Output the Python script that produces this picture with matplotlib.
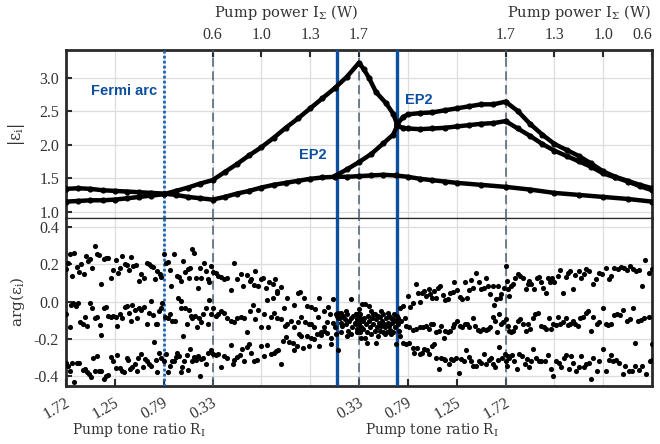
import matplotlib
matplotlib.use('Agg')
import matplotlib.pyplot as plt
import matplotlib.transforms as mtransforms
import numpy as np

plt.rcParams['font.family'] = 'Liberation Serif'
plt.rcParams['mathtext.fontset'] = 'custom'
plt.rcParams['mathtext.rm'] = 'DejaVu Serif'
plt.rcParams['mathtext.it'] = 'DejaVu Serif:italic'
plt.rcParams['mathtext.bf'] = 'DejaVu Serif:bold'

# x axis: one unit per tick step
ratio_ticks = [0, 1, 2, 3, 6, 7, 8, 9]
ratio_labels = ['1.72', '1.25', '0.79', '0.33', '0.33', '0.79', '1.25', '1.72']
power_ticks = [3, 4, 5, 6, 9, 10, 11, 12]
power_labels = ['0.6', '1.0', '1.3', '1.7', '1.7', '1.3', '1.0', '0.6']

fermi_arc_x = 2
dashed_x = [3, 6, 9]
ep2_x = [5.556, 6.78]

# |eps_i| branches
branch_a_x = [0, 0.25, 0.5, 0.75, 1, 1.25, 1.5, 1.75, 2, 2.25, 2.5, 2.75, 3, 3.25, 3.5, 3.75, 4,
              4.25, 4.5, 4.75, 5, 5.25, 5.5, 5.75, 6, 6.25, 6.5, 6.75, 7, 7.25, 7.5, 7.75, 8,
              8.5, 9, 9.5, 10, 10.5, 11, 11.5, 12]
branch_a_y = [1.34, 1.35, 1.34, 1.32, 1.31, 1.30, 1.29, 1.28, 1.27, 1.25, 1.22, 1.20, 1.18, 1.22,
              1.27, 1.31, 1.36, 1.40, 1.43, 1.46, 1.49, 1.51, 1.52, 1.52, 1.53, 1.54, 1.55, 1.54,
              1.52, 1.49, 1.47, 1.45, 1.43, 1.40, 1.37, 1.33, 1.28, 1.25, 1.22, 1.19, 1.15]

branch_b_x = [0, 0.25, 0.5, 0.75, 1, 1.25, 1.5, 1.75, 2, 2.25, 2.5, 2.75, 3, 3.25, 3.5, 3.75, 4,
              4.25, 4.5, 4.75, 5, 5.25, 5.5, 5.75, 6, 6.1, 6.2, 6.35, 6.55, 6.7, 6.78]
branch_b_y = [1.15, 1.16, 1.17, 1.17, 1.18, 1.20, 1.22, 1.24, 1.26, 1.31, 1.36, 1.42, 1.47, 1.59,
              1.71, 1.84, 1.96, 2.10, 2.25, 2.39, 2.54, 2.69, 2.84, 3.01, 3.22, 3.12, 3.00, 2.78,
              2.62, 2.46, 2.30]

branch_c_x = [5.5, 5.75, 6.0, 6.25, 6.5, 6.7, 6.78]
branch_c_y = [1.53, 1.63, 1.74, 1.86, 2.02, 2.15, 2.28]

branch_de_x = [6.78, 6.9, 7.0, 7.25, 7.5, 7.75, 8.0, 8.25, 8.5, 8.75, 9.0, 9.25, 9.5, 9.75, 10.0,
               10.25, 10.5, 10.75, 11.0, 11.25, 11.5, 11.75, 12.0]
branch_d_y = [2.30, 2.41, 2.45, 2.47, 2.48, 2.51, 2.54, 2.57, 2.60, 2.60, 2.64, 2.50, 2.31, 2.15,
              2.01, 1.92, 1.83, 1.72, 1.60, 1.52, 1.46, 1.40, 1.35]
branch_e_y = [2.28, 2.25, 2.24, 2.23, 2.24, 2.25, 2.27, 2.29, 2.31, 2.32, 2.35, 2.24, 2.13, 2.01,
              1.91, 1.83, 1.75, 1.67, 1.57, 1.51, 1.45, 1.38, 1.32]

# arg(eps_i) scatter, (x, value)
arg_upper = [
    (0.01, 0.174), (0.04, 0.21), (0.08, 0.255), (0.13, 0.138), (0.16, 0.26), (0.23, 0.187),
    (0.27, 0.162), (0.31, 0.201), (0.36, 0.147), (0.40, 0.246), (0.45, 0.219), (0.49, 0.228),
    (0.54, 0.18), (0.59, 0.30), (0.63, 0.258), (0.68, 0.252), (0.72, 0.094), (0.77, 0.228),
    (0.81, 0.233), (0.86, 0.237), (0.92, 0.129), (0.97, 0.171), (1.02, 0.222), (1.07, 0.156),
    (1.11, 0.183), (1.15, 0.246), (1.20, 0.201), (1.24, 0.198), (1.29, 0.171), (1.33, 0.24),
    (1.38, 0.192), (1.43, 0.196), (1.50, 0.111), (1.54, 0.147), (1.60, 0.126), (1.65, 0.21),
    (1.70, 0.201), (1.75, 0.192), (1.79, 0.189), (1.82, 0.12), (1.87, 0.165), (1.93, 0.151),
    (1.95, 0.133), (2.01, 0.255), (2.04, 0.21), (2.09, 0.215), (2.13, 0.169), (2.16, 0.085),
    (2.21, 0.255), (2.27, 0.138), (2.32, 0.133), (2.35, 0.111), (2.40, 0.219), (2.43, 0.162),
    (2.49, 0.174), (2.52, 0.126), (2.54, 0.183), (2.59, 0.282), (2.62, 0.264), (2.66, 0.129),
    (2.70, 0.076), (2.75, 0.18), (2.77, 0.129), (2.83, 0.21), (2.86, 0.165), (2.90, 0.12),
    (2.93, 0.108), (2.96, 0.192), (3.01, 0.162), (3.07, 0.156), (3.11, 0.138), (3.17, 0.133),
    (3.24, 0.12), (3.30, 0.129), (3.37, 0.061), (3.44, 0.21), (3.51, 0.12), (3.58, 0.151),
    (3.63, 0.085), (3.70, 0.144), (3.76, 0.111), (3.78, 0.12), (3.84, 0.09), (3.88, 0.165),
    (3.93, 0.085), (3.99, 0.12), (4.04, 0.129), (4.09, 0.072), (4.16, 0.103), (4.23, 0.094),
    (4.27, 0.12), (4.33, 0.058), (4.41, 0.081),
    (4.12, 0.008), (4.23, 0.022), (4.33, 0.049), (4.47, -0.032), (4.53, 0.022), (4.67, -0.018),
    (4.74, 0.049), (4.79, 0.054), (4.87, 0.022), (4.93, -0.023), (5.02, -0.028), (5.09, -0.041),
    (5.18, 0.017), (5.28, -0.05), (5.37, -0.028), (5.46, 0.013), (5.52, -0.068), (5.57, -0.086),
    (5.63, -0.059), (5.73, -0.05), (5.83, 0.013), (5.93, -0.068),
    (6.83, -0.032), (6.90, -0.023), (6.95, -0.086), (7.00, 0.031), (7.05, -0.028), (7.10, -0.01),
    (7.17, 0.094), (7.20, 0.044), (7.25, 0.0), (7.29, 0.044), (7.34, 0.058), (7.37, 0.031),
    (7.43, 0.067), (7.46, 0.04), (7.50, 0.018), (7.54, 0.058), (7.58, 0.022), (7.61, 0.076),
    (7.66, 0.085), (7.71, 0.036), (7.77, 0.008), (7.82, 0.013), (7.86, 0.044), (7.92, 0.054),
    (7.95, 0.103), (8.00, 0.061), (8.06, 0.026), (8.11, 0.013), (8.16, 0.103), (8.21, 0.022),
    (8.25, 0.061), (8.29, 0.115), (8.34, 0.072), (8.40, 0.156), (8.45, 0.103), (8.50, 0.067),
    (8.55, 0.072), (8.59, 0.126), (8.64, 0.085), (8.68, 0.04), (8.74, 0.085), (8.77, -0.018),
    (8.81, 0.013), (8.84, 0.085), (8.88, 0.022), (8.91, 0.04), (8.96, 0.076), (9.00, 0.192),
    (9.03, 0.111), (9.05, 0.067), (9.08, 0.031), (9.11, 0.085), (9.15, 0.097), (9.20, 0.126),
    (9.25, 0.147), (9.30, 0.138), (9.35, 0.126), (9.41, 0.067), (9.46, 0.097), (9.49, 0.111),
    (9.52, 0.094), (9.59, 0.067), (9.64, 0.129), (9.68, 0.133), (9.73, 0.103), (9.76, 0.076),
    (9.82, 0.049), (9.86, 0.129), (9.90, 0.103), (9.95, 0.129), (10.00, 0.108), (10.07, 0.138),
    (10.12, 0.169), (10.17, 0.049), (10.23, 0.133), (10.27, 0.156), (10.32, 0.165), (10.38, 0.067),
    (10.43, 0.144), (10.50, 0.165), (10.55, 0.129), (10.60, 0.147), (10.65, 0.174), (10.70, 0.165),
    (10.80, 0.094), (10.85, 0.12), (10.91, 0.156), (10.98, 0.147), (11.05, 0.183), (11.11, 0.12),
    (11.16, 0.138), (11.23, 0.183), (11.30, 0.174), (11.37, 0.187), (11.43, 0.18), (11.48, 0.169),
    (11.54, 0.192), (11.61, 0.174), (11.67, 0.165), (11.73, 0.169), (11.80, 0.085), (11.86, 0.222),
    (11.93, 0.156), (11.99, 0.174),
]

arg_middle = [
    (0.0, -0.068), (0.08, -0.136), (0.11, -0.018), (0.15, -0.01), (0.20, -0.023), (0.25, -0.01),
    (0.29, -0.112), (0.34, -0.121), (0.38, -0.082), (0.44, -0.13), (0.49, -0.01), (0.54, -0.035),
    (0.59, -0.086), (0.64, -0.082), (0.70, -0.125), (0.72, -0.179), (0.77, -0.035), (0.81, -0.028),
    (0.86, -0.078), (0.92, -0.082), (0.97, -0.078), (1.02, -0.082), (1.05, -0.13), (1.11, -0.068),
    (1.15, -0.086), (1.20, -0.028), (1.24, -0.023), (1.29, -0.059), (1.33, -0.104), (1.36, -0.018),
    (1.41, -0.046), (1.46, -0.086), (1.50, -0.032), (1.54, -0.046), (1.60, -0.028), (1.65, -0.121),
    (1.70, -0.059), (1.75, 0.004), (1.79, -0.071), (1.84, -0.121), (1.87, -0.118), (1.91, -0.05),
    (1.95, -0.032), (1.97, -0.005), (2.02, -0.082), (2.08, -0.086), (2.13, -0.068), (2.18, -0.104),
    (2.23, -0.104), (2.29, 0.018), (2.35, 0.004), (2.36, -0.035), (2.40, -0.184), (2.43, -0.032),
    (2.47, -0.118), (2.52, -0.046), (2.56, -0.077), (2.59, -0.086), (2.64, -0.077), (2.69, -0.139),
    (2.72, -0.089), (2.77, -0.107), (2.81, -0.068), (2.86, -0.035), (2.90, -0.118), (2.93, 0.011),
    (2.96, -0.064), (3.01, -0.035), (3.07, -0.077), (3.11, -0.068), (3.17, -0.05), (3.24, -0.059),
    (3.30, -0.086), (3.37, -0.104), (3.44, -0.112), (3.51, -0.086), (3.58, -0.082), (3.65, -0.086),
    (3.70, -0.161), (3.77, -0.05), (3.82, -0.018), (3.88, -0.095), (3.93, -0.046), (4.00, -0.139),
    (4.06, -0.064), (4.14, -0.139), (4.19, -0.082), (4.26, -0.059), (4.33, -0.086), (4.41, -0.095),
    (4.48, -0.13), (4.53, -0.121), (4.60, -0.104), (4.67, -0.139), (4.74, -0.107), (4.82, -0.082),
    (4.89, -0.107), (4.98, -0.121), (5.02, -0.118), (5.08, -0.139), (5.15, -0.082), (5.22, -0.166),
    (5.28, -0.136), (5.35, -0.107), (5.41, -0.068), (5.46, -0.113), (5.50, -0.139), (5.54, -0.077),
    (6.86, -0.104), (6.96, -0.13), (7.03, -0.139), (7.10, -0.153), (7.17, -0.148), (7.24, -0.139),
    (7.31, -0.139), (7.37, -0.13), (7.43, -0.148), (7.48, -0.121), (7.52, -0.118), (7.58, -0.166),
    (7.63, -0.157), (7.68, -0.13), (7.73, -0.193), (7.77, -0.157), (7.82, -0.166), (7.86, -0.157),
    (7.92, -0.139), (7.95, -0.121), (8.00, -0.104), (8.06, -0.13), (8.11, -0.139), (8.16, -0.121),
    (8.21, -0.118), (8.26, -0.139), (8.33, -0.086), (8.38, -0.13), (8.43, -0.153), (8.48, -0.157),
    (8.53, -0.148), (8.59, -0.153), (8.64, -0.148), (8.68, -0.139), (8.74, -0.082), (8.79, -0.104),
    (8.82, -0.166), (8.86, -0.068), (8.91, -0.118), (8.94, -0.107), (9.00, -0.095), (9.05, -0.13),
    (9.08, -0.157), (9.11, -0.166), (9.15, -0.157), (9.20, -0.139), (9.25, -0.104), (9.30, -0.095),
    (9.35, -0.118), (9.41, -0.157), (9.46, -0.121), (9.50, -0.148), (9.56, -0.086), (9.61, -0.068),
    (9.66, -0.059), (9.73, -0.13), (9.78, -0.139), (9.83, -0.148), (9.89, -0.086), (9.93, -0.148),
    (9.98, -0.121), (10.04, -0.125), (10.07, -0.082), (10.12, -0.118), (10.17, -0.107),
    (10.23, -0.086), (10.27, -0.125), (10.32, -0.121), (10.38, -0.104), (10.43, -0.118),
    (10.48, -0.13), (10.53, -0.086), (10.58, -0.082), (10.64, -0.059), (10.68, -0.053),
    (10.75, -0.157), (10.80, -0.082), (10.87, -0.118), (10.92, -0.112), (10.99, -0.035),
    (11.05, -0.121), (11.09, -0.125), (11.16, -0.118), (11.23, -0.071), (11.28, -0.068),
    (11.35, -0.071), (11.40, -0.046), (11.48, -0.104), (11.54, -0.095), (11.61, -0.032),
    (11.66, -0.22), (11.71, -0.104), (11.78, -0.1), (11.84, -0.089), (11.93, -0.082),
    (11.99, -0.229),
]

arg_lower = [
    (0.0, -0.328), (0.04, -0.345), (0.08, -0.372), (0.13, -0.328), (0.16, -0.43), (0.22, -0.331),
    (0.27, -0.331), (0.34, -0.369), (0.38, -0.363), (0.42, -0.381), (0.47, -0.39), (0.51, -0.408),
    (0.56, -0.301), (0.59, -0.372), (0.63, -0.292), (0.68, -0.372), (0.72, -0.372), (0.77, -0.417),
    (0.81, -0.399), (0.86, -0.394), (0.92, -0.297), (0.97, -0.322), (1.02, -0.358), (1.05, -0.288),
    (1.11, -0.358), (1.15, -0.372), (1.19, -0.381), (1.24, -0.304), (1.27, -0.315), (1.31, -0.363),
    (1.36, -0.354), (1.41, -0.337), (1.45, -0.372), (1.48, -0.301), (1.53, -0.283), (1.58, -0.354),
    (1.61, -0.31), (1.65, -0.322), (1.70, -0.337), (1.75, -0.345), (1.80, -0.215), (1.84, -0.315),
    (1.87, -0.376), (1.91, -0.274), (1.95, -0.301), (2.01, -0.319), (2.04, -0.283), (2.09, -0.381),
    (2.13, -0.345), (2.18, -0.322), (2.21, -0.322), (2.25, -0.297), (2.28, -0.274), (2.32, -0.292),
    (2.35, -0.376), (2.38, -0.35), (2.42, -0.322), (2.47, -0.286), (2.50, -0.369), (2.54, -0.256),
    (2.59, -0.322), (2.62, -0.297), (2.66, -0.315), (2.70, -0.292), (2.75, -0.399), (2.77, -0.31),
    (2.81, -0.301), (2.86, -0.337), (2.91, -0.274), (2.96, -0.261), (3.01, -0.283), (3.07, -0.286),
    (3.11, -0.283), (3.18, -0.35), (3.24, -0.292), (3.29, -0.304), (3.37, -0.233), (3.41, -0.333),
    (3.45, -0.315), (3.51, -0.297), (3.56, -0.286), (3.61, -0.256), (3.65, -0.322), (3.70, -0.243),
    (3.75, -0.229), (3.78, -0.279), (3.85, -0.322), (3.91, -0.315), (4.00, -0.238), (4.06, -0.292),
    (4.12, -0.233), (4.19, -0.283), (4.25, -0.274), (4.29, -0.265), (4.34, -0.261), (4.40, -0.337),
    (4.45, -0.211), (4.50, -0.19), (4.57, -0.215), (4.64, -0.22), (4.67, -0.261), (4.72, -0.238),
    (4.77, -0.175), (4.82, -0.184), (4.86, -0.251), (4.93, -0.184), (4.98, -0.238), (5.02, -0.193),
    (5.08, -0.202), (5.13, -0.175), (5.18, -0.238), (5.23, -0.179), (5.28, -0.157), (5.35, -0.171),
    (5.42, -0.193), (5.43, -0.229), (5.52, -0.175), (5.57, -0.261),
    (6.90, -0.22), (6.96, -0.229), (7.03, -0.22), (7.10, -0.247), (7.13, -0.279), (7.18, -0.247),
    (7.24, -0.283), (7.29, -0.274), (7.34, -0.256), (7.39, -0.261), (7.44, -0.283), (7.50, -0.238),
    (7.54, -0.229), (7.58, -0.301), (7.63, -0.363), (7.68, -0.301), (7.73, -0.31), (7.77, -0.315),
    (7.84, -0.337), (7.89, -0.31), (7.93, -0.315), (7.99, -0.304), (8.04, -0.386), (8.09, -0.31),
    (8.14, -0.319), (8.19, -0.261), (8.25, -0.297), (8.30, -0.322), (8.34, -0.345), (8.40, -0.345),
    (8.45, -0.322), (8.50, -0.328), (8.55, -0.283), (8.60, -0.337), (8.66, -0.315), (8.70, -0.301),
    (8.75, -0.337), (8.79, -0.354), (8.84, -0.315), (8.87, -0.243), (8.93, -0.301), (8.98, -0.283),
    (9.00, -0.319), (9.03, -0.345), (9.05, -0.292), (9.08, -0.301), (9.13, -0.286), (9.18, -0.319),
    (9.23, -0.363), (9.28, -0.283), (9.34, -0.292), (9.39, -0.337), (9.44, -0.31), (9.48, -0.35),
    (9.52, -0.319), (9.57, -0.256), (9.63, -0.301), (9.68, -0.319), (9.73, -0.322), (9.80, -0.319),
    (9.86, -0.286), (9.93, -0.363), (9.98, -0.399), (10.04, -0.319), (10.09, -0.328),
    (10.14, -0.354), (10.19, -0.301), (10.23, -0.286), (10.30, -0.363), (10.34, -0.292),
    (10.39, -0.328), (10.45, -0.372), (10.50, -0.354), (10.55, -0.292), (10.60, -0.354),
    (10.65, -0.337), (10.70, -0.328), (10.75, -0.417), (10.80, -0.301), (10.87, -0.372),
    (10.92, -0.319), (10.99, -0.256), (11.05, -0.372), (11.11, -0.315), (11.16, -0.286),
    (11.21, -0.319), (11.26, -0.315), (11.33, -0.328), (11.40, -0.39), (11.45, -0.345),
    (11.52, -0.372), (11.59, -0.372), (11.66, -0.345), (11.73, -0.368), (11.80, -0.345),
    (11.88, -0.39), (11.95, -0.319), (11.99, -0.315),
]

# dense region between the two EP2 lines
arg_cluster = [
    (5.56, -0.059), (5.60, -0.086), (5.63, -0.113), (5.65, -0.13), (5.68, -0.077), (5.71, -0.095),
    (5.74, -0.121), (5.76, -0.068), (5.78, -0.157), (5.80, -0.104), (5.83, -0.086), (5.86, -0.139),
    (5.88, -0.077), (5.91, -0.113), (5.94, -0.121), (5.97, -0.086), (6.00, -0.157), (6.01, -0.068),
    (6.02, -0.104), (5.64, -0.166), (5.75, -0.184), (5.84, -0.175), (5.93, -0.068), (5.95, -0.148),
    (5.95, -0.095), (5.97, -0.068), (5.99, -0.121), (6.01, -0.166), (6.02, -0.086), (6.04, -0.139),
    (6.06, -0.014), (6.08, -0.104), (6.09, -0.148), (6.11, -0.086), (6.13, -0.014), (6.14, -0.121),
    (6.16, -0.166), (6.18, -0.077), (6.20, -0.023), (6.21, -0.104), (6.23, -0.139), (6.25, -0.175),
    (6.27, -0.086), (6.28, -0.121), (6.29, -0.068), (6.32, -0.157), (6.34, -0.225), (6.35, -0.095),
    (6.36, -0.139), (6.38, -0.077), (6.40, -0.113), (6.42, -0.157), (6.43, -0.082), (6.45, -0.13),
    (6.47, -0.104), (6.49, -0.166), (6.50, -0.068), (6.52, -0.118), (6.54, -0.139), (6.55, -0.086),
    (6.57, -0.166), (6.59, -0.113), (6.61, -0.077), (6.62, -0.13), (6.64, -0.153), (6.66, -0.086),
    (6.68, -0.113), (6.69, -0.166), (6.70, -0.095), (6.73, -0.139), (6.75, -0.104), (6.76, -0.229),
    (6.77, -0.077), (6.79, -0.121), (6.81, -0.157), (6.83, -0.184), (5.96, -0.166), (5.99, -0.041),
    (6.04, -0.193), (6.12, -0.193), (6.17, -0.22), (6.24, -0.053), (6.33, -0.068), (6.39, -0.184),
    (6.45, -0.05), (6.53, -0.175), (6.60, -0.059), (6.65, -0.175), (6.72, -0.068), (6.80, -0.086),
]

blue = '#0d4f9e'
blue_dot = '#1a66b8'
dash_col = '#4a5f73'
grid_col = '#dddddd'
spine_col = '#2a2a2a'
text_col = '#333333'
label_font = 'DejaVu Serif'

fig = plt.figure(figsize=(6.6, 4.44), dpi=100)
ax1 = fig.add_axes([0.1, 0.509, 0.888, 0.3784])
ax2 = fig.add_axes([0.1, 0.1306, 0.888, 0.3784])

for ax in (ax1, ax2):
    ax.set_xlim(0, 12)
    ax.set_xticks(range(13), minor=True)
    ax.grid(True, which='both', axis='x', color=grid_col, lw=0.9, zorder=0)
    ax.grid(True, which='major', axis='y', color=grid_col, lw=0.9, zorder=0)
    ax.set_axisbelow(True)
    for s in ax.spines.values():
        s.set_linewidth(2)
        s.set_color(spine_col)
    ax.tick_params(which='minor', length=0)
    ax.tick_params(axis='y', direction='in', length=4, width=1.5, labelsize=11.5,
                   labelcolor=text_col, color=spine_col, pad=5)
    ax.axvline(fermi_arc_x, color=blue_dot, lw=2, ls=(0, (1, 0.8)), zorder=3)
    for xd in dashed_x:
        ax.axvline(xd, color=dash_col, lw=1.1, ls=(0, (6, 3)), zorder=3)
    for xe in ep2_x:
        ax.axvline(xe, color=blue, lw=2.4, zorder=4)

ax1.spines['bottom'].set_linewidth(0.9)
ax2.spines['top'].set_linewidth(0.9)

# top panel: |eps_i|
for bx, by in [(branch_a_x, branch_a_y), (branch_b_x, branch_b_y), (branch_c_x, branch_c_y),
               (branch_de_x, branch_d_y), (branch_de_x, branch_e_y)]:
    ax1.plot(bx, by, '-', color='k', lw=3.2, marker='o', ms=3.4, zorder=5)
ax1.set_ylim(0.906, 3.41)
ax1.set_yticks([1.0, 1.5, 2.0, 2.5, 3.0])
ax1.set_yticklabels(['1.0', '1.5', '2.0', '2.5', '3.0'])
ax1.set_xticks(power_ticks)
ax1.set_xticklabels(power_labels)
ax1.tick_params(axis='x', which='major', direction='in', top=True, bottom=False,
                labeltop=True, labelbottom=False, length=5, width=1.5, labelsize=11.5,
                labelcolor=text_col, color=spine_col, pad=5)
# keep the last top label inside the figure
ax1.get_xticklabels()[-1].set_horizontalalignment('right')
ax1.set_ylabel(r'$|\mathrm{ε}_\mathrm{i}|$', fontsize=11.5, color=text_col)
ax1.yaxis.set_label_coords(-0.066, 0.5)

tr1 = mtransforms.blended_transform_factory(ax1.transData, ax1.transAxes)
for xc in [4.5, 10.5]:
    ax1.text(xc, 1.226, r'Pump power I$_\mathrm{\Sigma}$ (W)', transform=tr1, ha='center',
             va='center', fontsize=10.5, family=label_font, color=text_col)

ax1.text(1.86, 2.80, 'Fermi arc', ha='right', va='center', fontsize=10.5, fontweight='bold',
         family='Liberation Sans', color=blue, zorder=6)
ax1.text(5.05, 1.84, 'EP2', ha='center', va='center', fontsize=10.5, fontweight='bold',
         family='Liberation Sans', color=blue, zorder=6)
ax1.text(7.22, 2.67, 'EP2', ha='center', va='center', fontsize=10.5, fontweight='bold',
         family='Liberation Sans', color=blue, zorder=6)

# bottom panel: arg(eps_i)
for band in (arg_upper, arg_middle, arg_lower, arg_cluster):
    px, py = np.array(band).T
    ax2.plot(px, py, 'o', color='k', ms=3.7, mew=0, zorder=5)
ax2.set_ylim(-0.454, 0.45)
ax2.set_yticks([-0.4, -0.2, 0.0, 0.2, 0.4])
ax2.set_yticklabels(['-0.4', '-0.2', '0.0', '0.2', '0.4'])
ax2.set_xticks(ratio_ticks)
ax2.set_xticklabels(ratio_labels, rotation=30, ha='right')
ax2.tick_params(axis='x', which='major', direction='in', length=5, width=1.5, labelsize=11.5,
                labelcolor=text_col, color=spine_col, pad=6)
shift = mtransforms.ScaledTranslation(7 / 100, 0, fig.dpi_scale_trans)
for lab in ax2.get_xticklabels():
    lab.set_transform(lab.get_transform() + shift)
ax2.set_ylabel(r'arg($\mathrm{ε}_\mathrm{i}$)', fontsize=11, family=label_font, color=text_col)
ax2.yaxis.set_label_coords(-0.066, 0.5)

tr2 = mtransforms.blended_transform_factory(ax2.transData, ax2.transAxes)
for xc in [1.5, 7.5]:
    ax2.text(xc, -0.262, r'Pump tone ratio R$_\mathrm{I}$', transform=tr2, ha='center',
             va='center', fontsize=10, family=label_font, color=text_col)

fig.savefig('out.png', dpi=100)
